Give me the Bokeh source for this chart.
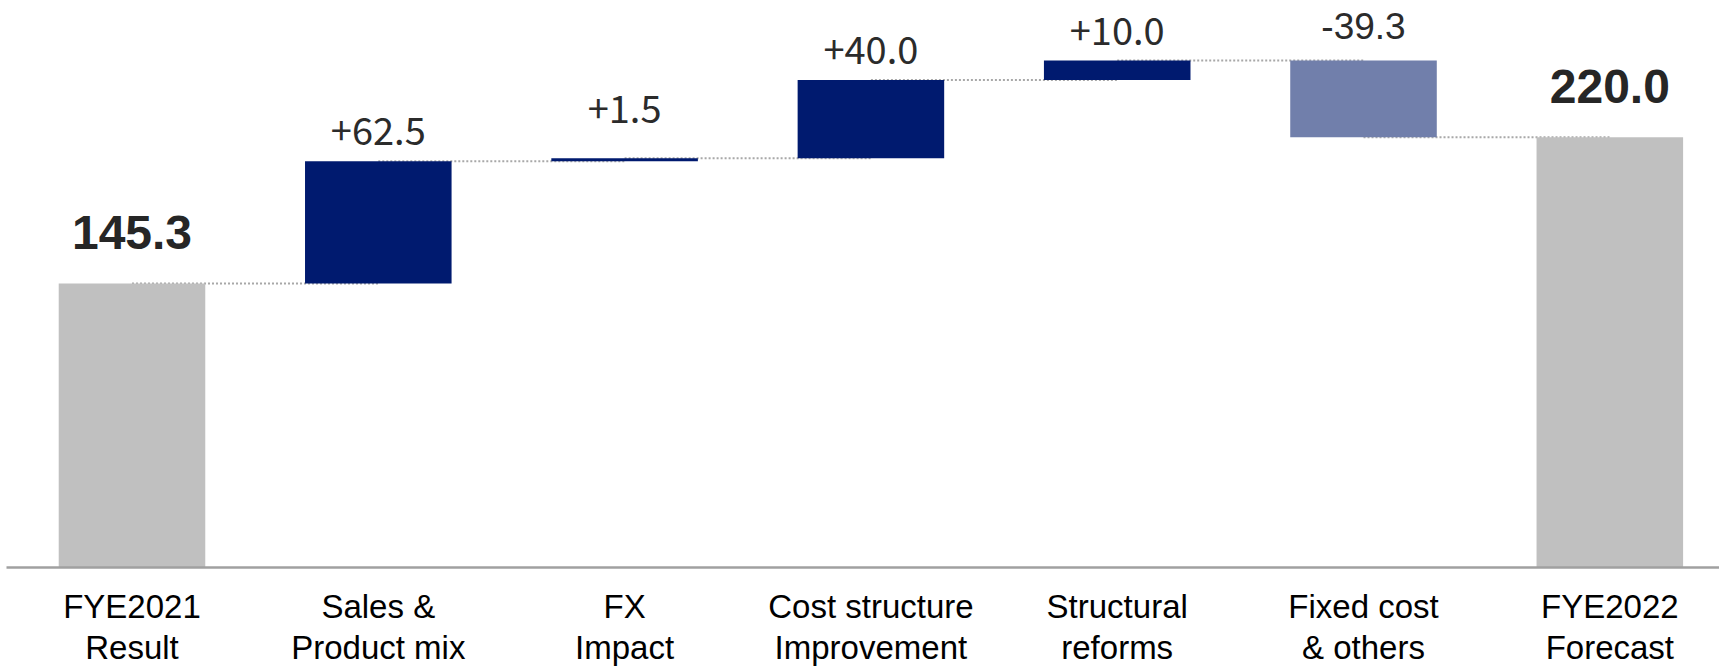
import numpy as np
from bokeh.plotting import figure
from bokeh.models import ColumnDataSource, FixedTicker, Range1d
from bokeh.core.properties import value
from bokeh.embed import file_html
from bokeh.resources import INLINE

# Operating income bridge, FYE2021 result -> FYE2022 forecast
categories = [
    "FYE2021\nResult",
    "Sales &\nProduct mix",
    "FX\nImpact",
    "Cost structure\nImprovement",
    "Structural\nreforms",
    "Fixed cost\n& others",
    "FYE2022\nForecast",
]
start_total = 145.3
deltas = [62.5, 1.5, 40.0, 10.0, -39.3]
end_total = 220.0

NAVY = "#001A6F"
PALE = "#717FAB"
GREY = "#C0C0C0"

n = len(categories)
xs = np.arange(n)
running = start_total + np.cumsum(deltas)
prev = np.concatenate([[start_total], running[:-1]])
d = np.array(deltas)

p = figure(
    frame_width=1713, frame_height=567,
    x_range=Range1d(-0.5095, 6.4453), y_range=Range1d(0, 290.0),
    output_backend="svg", toolbar_location=None,
    min_border_left=6, min_border_right=0, min_border_top=0, min_border_bottom=0,
)
p.outline_line_color = None
p.xgrid.visible = False
p.ygrid.visible = False
p.yaxis.visible = False

# dotted connectors at each running level, centre to centre
levels = np.concatenate([[start_total], running])
p.segment(x0=xs[:-1], y0=levels, x1=xs[1:], y1=levels,
          line_color="#A8A8A8", line_width=2, line_dash="2 2")

W = 0.595
# totals
tot_src = ColumnDataSource(dict(
    x=[xs[0], xs[-1]], top=[start_total, end_total],
    label=[f"{start_total:.1f}", f"{end_total:.1f}"],
))
p.vbar(x="x", top="top", bottom=0, width=W, source=tot_src,
       fill_color=GREY, line_color=None)
p.text(x="x", y="top", text="label", source=tot_src, y_offset=-51,
       text_align="center", text_baseline="alphabetic",
       text_font=value("Liberation Sans"), text_font_style="bold",
       text_font_size="48px", text_color="#262626")

# step bars
step_src = ColumnDataSource(dict(
    x=xs[1:-1],
    bottom=np.minimum(prev, running),
    top=np.maximum(prev, running),
    color=[NAVY if v >= 0 else PALE for v in d],
    label=[f"{v:+.1f}" for v in d],
    gap=[-49 if abs(v) < 5 else -30 for v in d],
))
p.vbar(x="x", bottom="bottom", top="top", width=W, source=step_src,
       fill_color="color", line_color=None)

pos = ColumnDataSource({k: [v for v, s in zip(step_src.data[k], d) if s >= 0]
                        for k in step_src.data})
neg = ColumnDataSource({k: [v for v, s in zip(step_src.data[k], d) if s < 0]
                        for k in step_src.data})
p.text(x="x", y="top", text="label", source=pos, y_offset="gap",
       text_align="center", text_baseline="alphabetic",
       text_font=value("Noto Sans CJK JP"), text_font_size="38px",
       text_color="#2B2B2B")
p.text(x="x", y="top", text="label", source=neg, y_offset=-35,
       text_align="center", text_baseline="alphabetic",
       text_font=value("Liberation Sans"), text_font_size="37px",
       text_color="#2B2B2B")

ax = p.xaxis[0]
ax.ticker = FixedTicker(ticks=list(range(n)))
ax.major_label_overrides = {int(i): lab for i, lab in enumerate(categories)}
ax.major_label_text_font = "Liberation Sans"
ax.major_label_text_font_size = "33px"
ax.major_label_text_color = "#000000"
ax.major_label_text_line_height = 1.13
ax.major_label_standoff = 14
ax.major_tick_line_color = None
ax.minor_tick_line_color = None
ax.axis_line_color = "#A0A0A0"
ax.axis_line_width = 2.5

open("out.html", "w").write(file_html(p, INLINE))
